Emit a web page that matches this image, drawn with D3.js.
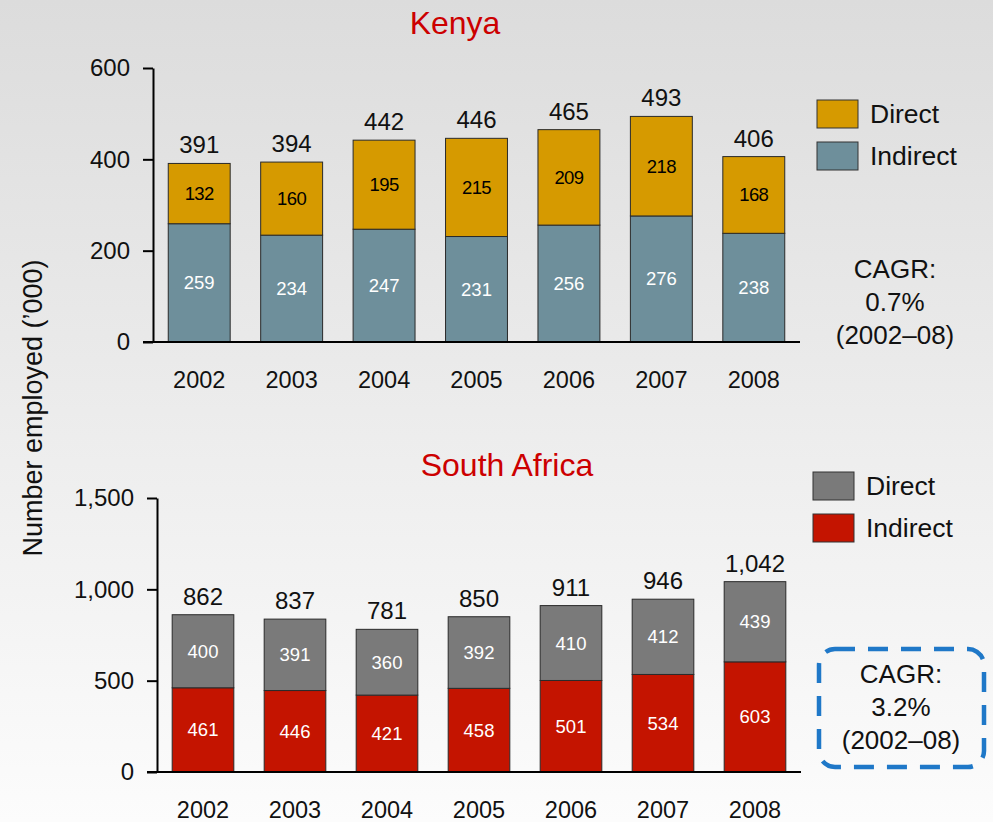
<!DOCTYPE html>
<html><head><meta charset="utf-8">
<script src="https://cdn.jsdelivr.net/npm/d3@7"></script>
<style>
html,body{margin:0;padding:0;}
svg{display:block;font-family:"Liberation Sans",Arial,sans-serif;}
</style></head>
<body>
<svg id="chart" width="993" height="822"></svg>
<script>
const years = ["2002","2003","2004","2005","2006","2007","2008"];
const kenyaDirect = [132,160,195,215,209,218,168];
const kenyaIndirect = [259,234,247,231,256,276,238];
const kenyaTotal = [391,394,442,446,465,493,406];
const saDirect = [400,391,360,392,410,412,439];
const saIndirect = [461,446,421,458,501,534,603];
const saTotal = [862,837,781,850,911,946,1042];
const kenyaTicks = [0,200,400,600];
const saTicks = [0,500,1000,1500];
const seriesNames = ["Direct","Indirect"];

const svg = d3.select("#chart");
const defs = svg.append("defs");
const grad = defs.append("linearGradient").attr("id","bg").attr("x1",0).attr("y1",0).attr("x2",0).attr("y2",1);
grad.append("stop").attr("offset","0%").attr("stop-color","#dcdcdc");
grad.append("stop").attr("offset","100%").attr("stop-color","#fcfcfc");
svg.append("rect").attr("width",993).attr("height",822).attr("fill","url(#bg)");

function panel(cfg){
  const g = svg.append("g");
  const x = d3.scaleBand().domain(years).range(cfg.xr).paddingInner(0.33).paddingOuter(0.165);
  const y = d3.scaleLinear().domain(cfg.yd).range(cfg.yr);
  const fmt = d3.format(",");
  // y axis
  const ya = g.append("g").attr("transform",`translate(${cfg.xr[0]},0)`)
    .call(d3.axisLeft(y).tickValues(cfg.ticks).tickFormat(fmt).tickSize(10).tickSizeOuter(0).tickPadding(13));
  ya.selectAll("path,line").attr("stroke","#000").attr("stroke-width",2);
  ya.selectAll("text").attr("font-size",24).attr("fill","#111").attr("font-family","Liberation Sans, Arial, sans-serif");
  // bars
  const data = years.map((yr,i)=>({yr, ind:cfg.ind[i], dir:cfg.dir[i], tot:cfg.tot[i]}));
  const bw = x.bandwidth();
  const bars = g.append("g").selectAll("g").data(data).join("g");
  bars.append("rect").attr("x",d=>x(d.yr)).attr("width",bw)
    .attr("y",d=>y(d.ind)).attr("height",d=>y(0)-y(d.ind))
    .attr("fill",cfg.cInd).attr("stroke","#2a2a2a").attr("stroke-width",1);
  bars.append("rect").attr("x",d=>x(d.yr)).attr("width",bw)
    .attr("y",d=>y(d.ind+d.dir)).attr("height",d=>y(d.ind)-y(d.ind+d.dir))
    .attr("fill",cfg.cDir).attr("stroke","#2a2a2a").attr("stroke-width",1);
  bars.append("text").attr("x",d=>x(d.yr)+bw/2).attr("y",d=>(y(0)+y(d.ind))/2).attr("dy","0.35em")
    .attr("text-anchor","middle").attr("font-size",18.5).attr("fill","#fff").text(d=>d.ind);
  bars.append("text").attr("x",d=>x(d.yr)+bw/2).attr("y",d=>(y(d.ind)+y(d.ind+d.dir))/2).attr("dy","0.35em")
    .attr("text-anchor","middle").attr("font-size",18.5).attr("fill",cfg.dirLabel)
    .attr("letter-spacing",cfg.dirLabel==="#000"?"-0.6px":"0").text(d=>d.dir);
  bars.append("text").attr("x",d=>x(d.yr)+bw/2).attr("y",d=>y(Math.max(d.tot,d.ind+d.dir))-10)
    .attr("text-anchor","middle").attr("font-size",24).attr("fill","#111").text(d=>fmt(d.tot));
  // x axis
  const xa = g.append("g").attr("transform",`translate(0,${y(0)})`)
    .call(d3.axisBottom(x).tickSize(0).tickPadding(29));
  xa.select(".domain").attr("d",`M${cfg.xr[0]-10},0H${cfg.xr[1]}`).attr("stroke","#000").attr("stroke-width",2);
  xa.selectAll("text").attr("font-size",23.5).attr("fill","#111").attr("font-family","Liberation Sans, Arial, sans-serif");
  // title
  g.append("text").attr("x",cfg.title[1]).attr("y",cfg.title[2]).attr("text-anchor","middle")
    .attr("font-size",32).attr("fill","#cc0000").text(cfg.title[0]);
  // legend
  const lg = g.append("g").selectAll("g").data(seriesNames).join("g")
    .attr("transform",(d,i)=>`translate(${cfg.leg[0]},${cfg.leg[1]+i*cfg.leg[2]})`);
  lg.append("rect").attr("width",41).attr("height",28)
    .attr("fill",(d,i)=>i===0?cfg.cDir:cfg.cInd).attr("stroke","#333").attr("stroke-width",1);
  lg.append("text").attr("x",53).attr("y",14).attr("dy","0.35em").attr("font-size",26.5).attr("fill","#111").text(d=>d);
  // CAGR
  const lines = ["CAGR:", cfg.cagr, "(2002\u201308)"];
  g.append("g").selectAll("text").data(lines).join("text")
    .attr("x",cfg.cagrPos[0]).attr("y",(d,i)=>cfg.cagrPos[1]+i*33).attr("dy","0.35em")
    .attr("text-anchor","middle").attr("font-size",26).attr("fill","#111").text(d=>d);
  return g;
}

panel({xr:[153,800], yd:[0,600], yr:[342,68], ticks:kenyaTicks,
  dir:kenyaDirect, ind:kenyaIndirect, tot:kenyaTotal,
  cDir:"#d69a00", cInd:"#6e8f9b", dirLabel:"#000",
  title:["Kenya",455,34], leg:[817,100,42], cagr:"0.7%", cagrPos:[895,269]});

const sa = panel({xr:[157,801], yd:[0,1500], yr:[772,498], ticks:saTicks,
  dir:saDirect, ind:saIndirect, tot:saTotal,
  cDir:"#7a7a7a", cInd:"#c41400", dirLabel:"#fff",
  title:["South Africa",507,476], leg:[813,472,42], cagr:"3.2%", cagrPos:[901,674]});

sa.append("rect").attr("x",819).attr("y",649).attr("width",165).attr("height",118).attr("rx",16)
  .attr("fill","none").attr("stroke","#1f78c8").attr("stroke-width",4.5).attr("stroke-dasharray","20,13");

svg.append("text").attr("transform","translate(42,408) rotate(-90)").attr("text-anchor","middle")
  .attr("font-size",27).attr("fill","#111").text("Number employed (\u2019000)");
</script>
</body></html>
